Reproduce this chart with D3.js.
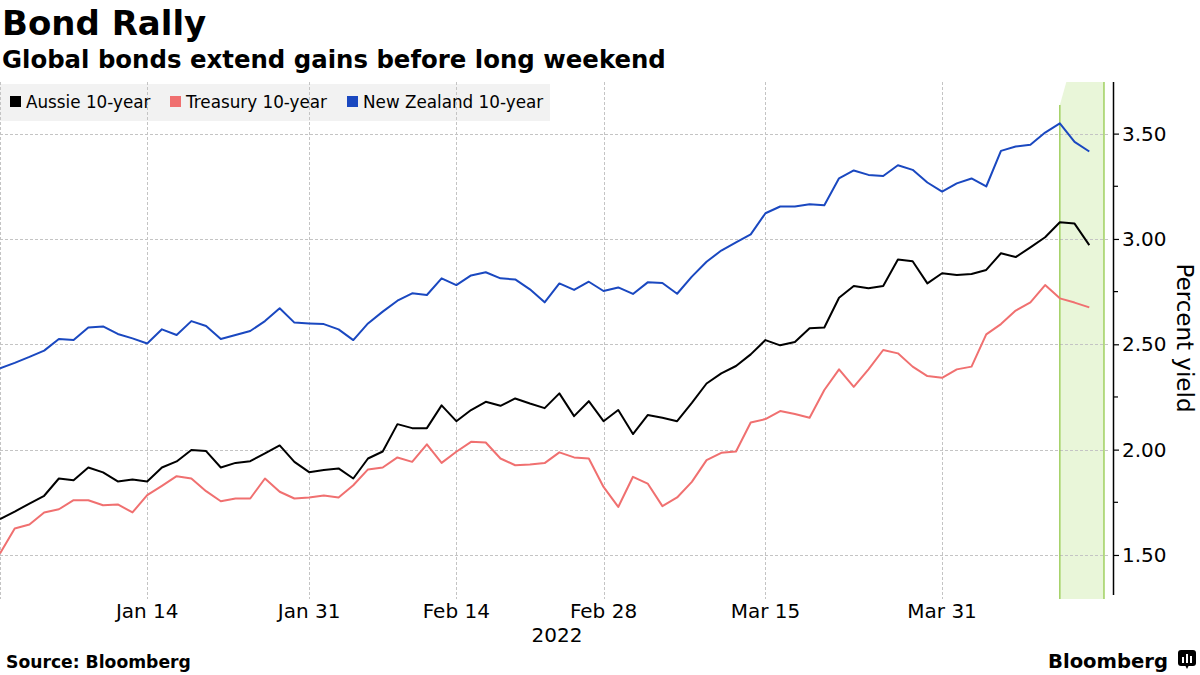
<!DOCTYPE html>
<html>
<head>
<meta charset="utf-8">
<script src="https://cdn.jsdelivr.net/npm/d3@7"></script>
<style>
  html, body { margin: 0; padding: 0; background: #fff; }
  svg { display: block; font-family: "DejaVu Sans", sans-serif; }
</style>
</head>
<body>
<svg id="chart" width="1200" height="675"></svg>
<script>
// ---------------- data ----------------
const startDate = "2021-12-31";
const endDate = "2022-04-15";   // last slot on the axis (band end)

const aussie = [1.670,1.706,1.744,1.781,1.863,1.855,1.915,1.892,1.849,1.858,
  1.849,1.915,1.944,1.998,1.993,1.915,1.937,1.945,1.982,2.020,
  1.942,1.893,1.903,1.911,1.863,1.958,1.991,2.121,2.102,2.102,
  2.210,2.135,2.188,2.227,2.208,2.243,2.219,2.197,2.267,2.159,
  2.230,2.135,2.188,2.074,2.164,2.151,2.135,2.222,2.314,2.362,
  2.397,2.452,2.520,2.495,2.511,2.576,2.580,2.721,2.777,2.766,
  2.777,2.903,2.894,2.789,2.837,2.829,2.834,2.853,2.932,2.914,
  2.960,3.008,3.079,3.073,2.971];

const treasury = [1.507,1.626,1.645,1.702,1.717,1.760,1.760,1.736,1.740,1.702,
  1.784,1.828,1.874,1.863,1.803,1.755,1.768,1.768,1.863,1.800,
  1.768,1.773,1.782,1.773,1.831,1.906,1.915,1.963,1.942,2.025,
  1.937,1.990,2.037,2.034,1.958,1.926,1.930,1.936,1.987,1.963,
  1.958,1.823,1.728,1.871,1.839,1.732,1.773,1.847,1.950,1.985,
  1.991,2.129,2.145,2.183,2.169,2.151,2.283,2.381,2.298,2.381,
  2.473,2.457,2.394,2.349,2.341,2.381,2.394,2.547,2.596,2.660,
  2.699,2.781,2.718,2.698,2.675];

const newZealand = [2.386,2.412,2.440,2.470,2.525,2.520,2.580,2.585,2.549,2.528,
  2.504,2.571,2.544,2.610,2.587,2.525,2.544,2.563,2.610,2.671,
  2.603,2.599,2.596,2.571,2.520,2.599,2.655,2.707,2.742,2.734,
  2.813,2.781,2.827,2.842,2.813,2.808,2.761,2.699,2.789,2.758,
  2.797,2.753,2.770,2.739,2.794,2.791,2.740,2.821,2.892,2.945,
  2.984,3.022,3.122,3.154,3.154,3.165,3.160,3.288,3.325,3.304,
  3.299,3.350,3.328,3.268,3.225,3.264,3.287,3.249,3.418,3.439,
  3.447,3.505,3.549,3.461,3.415];

const seriesNames = ["Aussie 10-year", "Treasury 10-year", "New Zealand 10-year"];
const seriesColors = ["#000000", "#f07070", "#1a48c0"];

const xTickDates = ["2022-01-14","2022-01-31","2022-02-14","2022-02-28","2022-03-15","2022-03-31"];
const xTickLabels = ["Jan 14","Jan 31","Feb 14","Feb 28","Mar 15","Mar 31"];
const yTicks = [1.5, 2.0, 2.5, 3.0, 3.5];
const yMinorTicks = [1.75, 2.25, 2.75, 3.25];
const bandDates = ["2022-04-12", "2022-04-15"];

// ---------------- build ----------------
const fmt = d3.utcFormat("%Y-%m-%d");
const parse = d3.utcParse("%Y-%m-%d");
const days = d3.utcDay.range(parse(startDate), d3.utcDay.offset(parse(endDate), 1))
  .filter(d => d.getUTCDay() !== 0 && d.getUTCDay() !== 6)
  .map(fmt);

const svg = d3.select("#chart");
const plotL = 0, plotR = 1104, plotT = 82, plotB = 595, axisX = 1113;

const x = d3.scalePoint().domain(days).range([plotL, plotR]);
const y = d3.scaleLinear().domain([1.31, 3.745]).range([plotB, plotT]);

// band
const bx0 = x(bandDates[0]), bx1 = x(bandDates[1]);
svg.append("path")
  .attr("d", `M${bx0},105 L${bx0 + 6.5},${plotT} L${bx1},${plotT} L${bx1},599 L${bx0},599 Z`)
  .attr("fill", "#e9f6d9");

// legend background
svg.append("rect").attr("x", 0).attr("y", 84).attr("width", 550).attr("height", 37)
  .attr("fill", "#f2f2f2");

// horizontal grid
svg.append("g").selectAll("line").data(yTicks).join("line")
  .attr("x1", 0).attr("x2", 1110)
  .attr("y1", d => Math.round(y(d)) + 0.5).attr("y2", d => Math.round(y(d)) + 0.5)
  .attr("stroke", "#c4c4c4").attr("stroke-width", 1).attr("stroke-dasharray", "3,2");

// vertical grid
svg.append("g").selectAll("line").data(xTickDates).join("line")
  .attr("x1", d => Math.round(x(d)) + 0.5).attr("x2", d => Math.round(x(d)) + 0.5)
  .attr("y1", plotT).attr("y2", 599)
  .attr("stroke", "#c4c4c4").attr("stroke-width", 1).attr("stroke-dasharray", "3,2");
svg.append("line").attr("x1", 0.5).attr("x2", 0.5).attr("y1", plotT).attr("y2", 599)
  .attr("stroke", "#c4c4c4").attr("stroke-dasharray", "3,2");

// band edges
svg.append("line").attr("x1", bx0).attr("x2", bx0).attr("y1", 105).attr("y2", 599)
  .attr("stroke", "#8cc63e").attr("stroke-width", 1.2);
svg.append("line").attr("x1", bx1).attr("x2", bx1).attr("y1", plotT).attr("y2", 599)
  .attr("stroke", "#8cc63e").attr("stroke-width", 1.2);

// lines
const allSeries = [aussie, treasury, newZealand];
const line = d3.line().x((d, i) => x(days[i])).y(d => y(d));
[newZealand, treasury, aussie].forEach(s => {
  const idx = allSeries.indexOf(s);
  svg.append("path").datum(s)
    .attr("d", line)
    .attr("fill", "none")
    .attr("stroke", seriesColors[idx])
    .attr("stroke-width", 2)
    .attr("stroke-linejoin", "round");
});

// y axis
const yAxis = d3.axisRight(y).tickValues(yTicks).tickSize(6).tickPadding(3)
  .tickFormat(d3.format(".2f"));
const ga = svg.append("g").attr("transform", `translate(${axisX},0)`).call(yAxis);
ga.select(".domain").attr("d", `M0.5,${plotT}V${plotB}`).attr("stroke", "#000").attr("stroke-width", 1.5);
ga.selectAll(".tick line").attr("stroke", "#000").attr("stroke-width", 1.2);
ga.selectAll(".tick text").attr("font-size", 20).attr("font-family", "DejaVu Sans, sans-serif")
  .attr("fill", "#000");
svg.append("g").selectAll("line").data(yMinorTicks).join("line")
  .attr("x1", axisX).attr("x2", axisX + 5)
  .attr("y1", d => y(d)).attr("y2", d => y(d))
  .attr("stroke", "#000").attr("stroke-width", 1.2);

// y label
svg.append("text").attr("transform", "translate(1177,338) rotate(90)")
  .attr("text-anchor", "middle").attr("font-size", 23).attr("fill", "#000")
  .text("Percent yield");

// x labels
svg.append("g").selectAll("text").data(xTickDates).join("text")
  .attr("x", d => x(d)).attr("y", 618)
  .attr("text-anchor", "middle").attr("font-size", 20).attr("fill", "#000")
  .text((d, i) => xTickLabels[i]);
svg.append("text").attr("x", 557).attr("y", 642).attr("text-anchor", "middle")
  .attr("font-size", 20).attr("fill", "#000").text("2022");

// legend
const legX = [10, 170, 347];
seriesNames.forEach((n, i) => {
  svg.append("rect").attr("x", legX[i]).attr("y", 96).attr("width", 11).attr("height", 11)
    .attr("fill", seriesColors[i]);
  svg.append("text").attr("x", legX[i] + 16).attr("y", 108).attr("font-size", 16.8)
    .attr("fill", "#000").text(n);
});

// titles
svg.append("text").attr("x", 2).attr("y", 35).attr("font-size", 34).attr("font-weight", "bold")
  .attr("fill", "#000").text("Bond Rally");
svg.append("text").attr("x", 2).attr("y", 68).attr("font-size", 24.4).attr("font-weight", "bold")
  .attr("fill", "#000").text("Global bonds extend gains before long weekend");

// footer
svg.append("text").attr("x", 6).attr("y", 668).attr("font-size", 17.2).attr("font-weight", "bold")
  .attr("fill", "#000").text("Source: Bloomberg");
svg.append("text").attr("x", 1168).attr("y", 668).attr("text-anchor", "end")
  .attr("font-size", 19.6).attr("font-weight", "bold").attr("fill", "#000").text("Bloomberg");
const logo = svg.append("g").attr("transform", "translate(1178,650)");
logo.append("rect").attr("width", 18).attr("height", 16).attr("rx", 3).attr("fill", "#000");
logo.append("path").attr("d", "M7,15 L9,19 L11,15 Z").attr("fill", "#000");
[[4,7,2,6],[8,4,2,9],[12,6,2,7]].forEach(b => {
  logo.append("rect").attr("x", b[0]).attr("y", b[1]).attr("width", b[2]).attr("height", b[3]).attr("fill", "#fff");
});
</script>
</body>
</html>
